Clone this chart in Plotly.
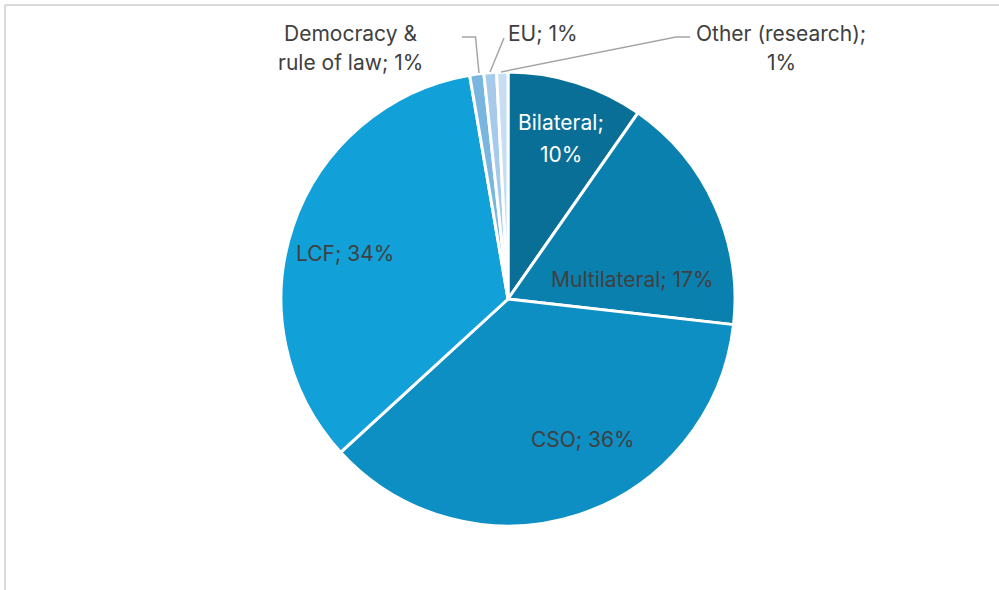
import plotly.graph_objects as go

W, H = 999, 590

labels = ["Bilateral", "Multilateral", "CSO", "LCF", "Democracy & rule of law", "EU", "Other (research)"]
values = [9.7, 17.1, 36.4, 34.1, 1.0, 0.9, 0.8]
colors = ["#0A6F97", "#0A80AF", "#0D8FC3", "#11A0D7", "#78B5DF", "#A6CBEA", "#C7DDF1"]

total = sum(values)
pct_text = [f"{round(v / total * 100)}%" for v in values]

cx, cy, r = 508, 299, 227

def px(x):
    return x / W

def py(y):
    return 1 - y / H

fig = go.Figure()
fig.add_trace(go.Pie(
    labels=labels,
    values=values,
    sort=False,
    direction="clockwise",
    rotation=0,
    marker=dict(colors=colors, line=dict(color="white", width=3)),
    textinfo="none",
    hoverinfo="label+percent",
    showlegend=False,
    domain=dict(x=[px(cx - r), px(cx + r)], y=[py(cy + r), py(cy - r)]),
))

font = "Inter, Lato, 'Open Sans', sans-serif"
dark = "#404040"
FS = 21

# (lines of text as templates, x center, y centers per line, colour)
label_pos = [
    (["{l};", "{p}"], 561, [123, 154], "white"),
    (["{l}; {p}"], 632, [279], dark),
    (["{l}; {p}"], 583, [439], dark),
    (["{l}; {p}"], 345, [253], dark),
    (["Democracy &", "rule of law; {p}"], 350, [33, 62], dark),
    (["{l}; {p}"], 543, [34], dark),
    (["{l};", "{p}"], 781, [34, 62], dark),
]

annotations = []
for (tmpls, x, ys, col), lab, p in zip(label_pos, labels, pct_text):
    for t, y in zip(tmpls, ys):
        annotations.append(dict(
            x=px(x), y=py(y), xref="paper", yref="paper",
            text=t.format(l=lab, p=p), showarrow=False,
            font=dict(family=font, size=FS, color=col),
            xanchor="center", yanchor="middle", align="center",
        ))

lc = "#A6A6A6"
def path(pts):
    return "M " + " L ".join(f"{px(x)},{py(y)}" for x, y in pts)

shapes = [
    dict(type="line", xref="paper", yref="paper", x0=px(5), y0=py(5), x1=1.01, y1=py(5),
         line=dict(color="#D9D9D9", width=2)),
    dict(type="line", xref="paper", yref="paper", x0=px(5), y0=py(5), x1=px(5), y1=-0.01,
         line=dict(color="#D9D9D9", width=2)),
    dict(type="path", xref="paper", yref="paper", path=path([(479, 73), (475.5, 37), (462, 37)]),
         line=dict(color=lc, width=1.5)),
    dict(type="path", xref="paper", yref="paper", path=path([(490, 72), (504, 38)]),
         line=dict(color=lc, width=1.5)),
    dict(type="path", xref="paper", yref="paper", path=path([(501, 72), (676, 37), (690, 37)]),
         line=dict(color=lc, width=1.5)),
]

fig.update_layout(
    width=W, height=H,
    margin=dict(l=0, r=0, t=0, b=0),
    paper_bgcolor="white",
    plot_bgcolor="white",
    annotations=annotations,
    shapes=shapes,
)

fig.write_html("out.html")
